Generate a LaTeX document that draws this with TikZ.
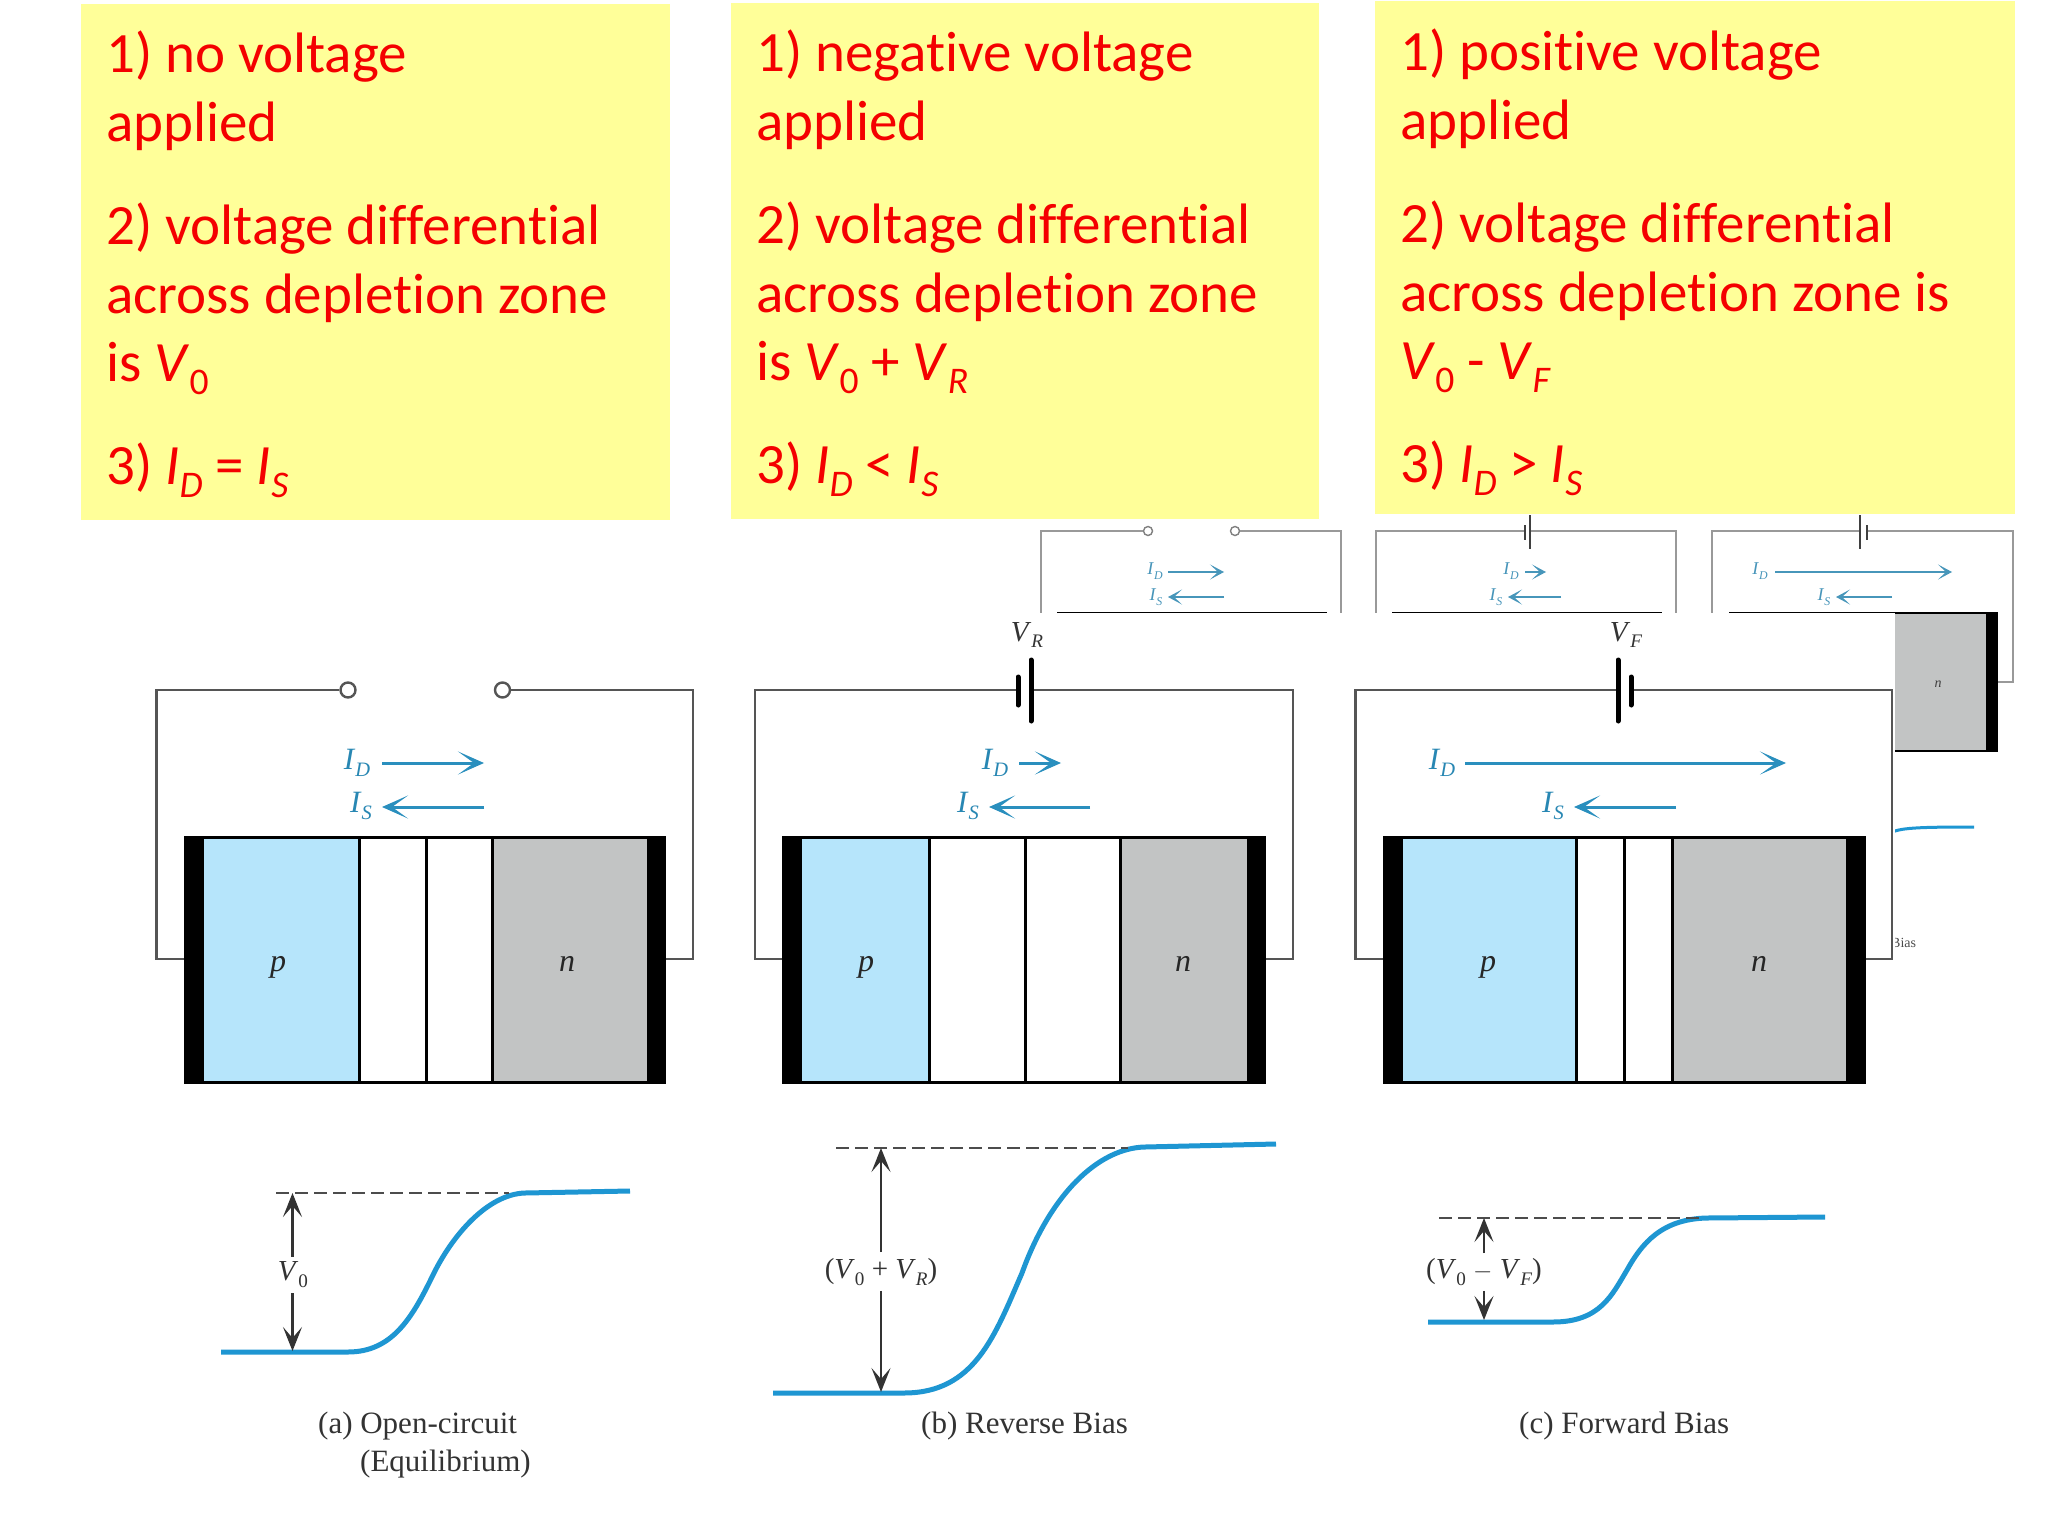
\documentclass[tikz,border=0pt]{standalone}
\usepackage{fontspec}
\setmainfont{Liberation Serif}
\newfontfamily\calfont[Ligatures=NoCommon]{Carlito}
\usetikzlibrary{arrows.meta}
\definecolor{noteyellow}{HTML}{FFFF99}
\definecolor{notered}{HTML}{F40000}
\definecolor{wirecol}{HTML}{555555}
\definecolor{cur}{HTML}{2F9FD3}
\definecolor{curb}{HTML}{1E96D2}
\definecolor{pblue}{HTML}{B6E5FB}
\definecolor{ngray}{HTML}{C2C4C4}
\newcommand\Sub[1]{\raisebox{-0.24em}{\scalebox{0.66}{#1}}}
\newcommand\It[1]{\textit{#1}}
\newcommand\V[1]{\It{V}\Sub{#1}}
\newcommand\VI[1]{\It{V}\Sub{\It{#1}}}
\newcommand\II[1]{\It{I}\Sub{\It{#1}}}
\tikzset{
  notebox/.style={fill=noteyellow,draw=none},
  noteline/.style={anchor=base west,inner sep=0pt,text=notered,font=\fontsize{57}{68}\selectfont\calfont},
  wire/.style={draw=wirecol,line width=2.2pt,line join=miter},
  smallwire/.style={draw=gray!80,line width=1.6pt},
  term/.style={circle,draw=wirecol,fill=white,line width=2.4pt,minimum size=15pt,inner sep=0pt},
  smallterm/.style={circle,draw=gray,fill=white,line width=1.4pt,minimum size=9pt,inner sep=0pt},
  curarrow/.style={draw=cur!90!black,line width=3pt,-{Stealth[length=26pt,width=23pt,inset=16pt]}},
  smallarrow/.style={draw=cur!70!gray,line width=2.2pt,-{Stealth[length=14pt,width=15pt,inset=8pt]}},
  curlabel/.style={inner sep=0pt,text=cur!85!black,font=\fontsize{31}{31}\selectfont},
  smalllabel/.style={inner sep=0pt,text=cur!70!gray,font=\fontsize{18}{18}\selectfont},
  volt/.style={inner sep=0pt,text=black!80,font=\fontsize{29}{29}\selectfont},
  captext/.style={anchor=base west,inner sep=0pt,text=black!80,font=\fontsize{31}{31}\selectfont},
  letter/.style={inner sep=0pt,font=\fontsize{32}{32}\selectfont\itshape,text=black!85},
  plate/.style={draw=black,line width=5pt,line cap=round},
  splate/.style={draw=black!75,line width=2.2pt},
  blackbar/.style={fill=black,draw=none},
  pside/.style={fill=pblue,draw=none},
  nside/.style={fill=ngray,draw=none},
  blackedge/.style={draw=black,line width=3pt},
  band/.style={draw=curb,line width=5pt},
  dashline/.style={draw=black!70,line width=2.2pt,dash pattern=on 13pt off 6pt},
  dimarrow/.style={draw=black!80,line width=2.4pt,-{Stealth[length=24pt,width=19pt,inset=11pt]}}
}
\begin{document}
\begin{tikzpicture}[x=1pt,y=-1pt]
\useasboundingbox (0,0) rectangle (2048,1536);
\fill[white] (0,0) rectangle (2048,1536);
% ---- small background panels
\coordinate (sa1) at (1041,682); \coordinate (sa2) at (1041,531); \coordinate (sa3) at (1341,531); \coordinate (sa4) at (1341,682);
\node[smallterm] (sat1) at (1148,531) {}; \node[smallterm] (sat2) at (1235,531) {};
\draw[smallwire] (sa1) -- (sa2) -- (sat1); \draw[smallwire] (sat2) -- (sa3) -- (sa4);
\coordinate (saa) at (1168,572); \coordinate (sab) at (1224,572); \coordinate (sac) at (1224,597); \coordinate (sad) at (1168,597);
\draw[smallarrow] (saa) -- (sab); \draw[smallarrow] (sac) -- (sad);
\node[smalllabel] (sal1) at (1155,571) {\II{D}}; \node[smalllabel] (sal2) at (1156,597) {\II{S}};
\coordinate (sal) at (1057,613); \coordinate (sar) at (1327,613); \draw[blackedge,line width=2pt] (sal) -- (sar);
%
\coordinate (sb1) at (1376,682); \coordinate (sb2) at (1376,531); \coordinate (sb3) at (1676,531); \coordinate (sb4) at (1676,682);
\draw[smallwire] (sb1) -- (sb2) -- (sb3) -- (sb4);
\fill[white] (1526,525) rectangle (1530,537);
\coordinate (sbp1) at (1530,515); \coordinate (sbp2) at (1530,549); \coordinate (sbq1) at (1525,525); \coordinate (sbq2) at (1525,540);
\draw[splate] (sbp1) -- (sbp2); \draw[splate] (sbq1) -- (sbq2);
\coordinate (sba) at (1525,572); \coordinate (sbb) at (1546,572); \coordinate (sbc) at (1561,597); \coordinate (sbd) at (1508,597);
\draw[smallarrow] (sba) -- (sbb); \draw[smallarrow] (sbc) -- (sbd);
\node[smalllabel] (sbl1) at (1511,571) {\II{D}}; \node[smalllabel] (sbl2) at (1496,597) {\II{S}};
\coordinate (sbl) at (1392,613); \coordinate (sbr) at (1662,613); \draw[blackedge,line width=2pt] (sbl) -- (sbr);
%
\coordinate (sc1) at (1712,682); \coordinate (sc2) at (1712,531); \coordinate (sc3) at (2013,531); \coordinate (sc4) at (2013,682);
\draw[smallwire] (sc1) -- (sc2) -- (sc3) -- (sc4) -- (1998,682);
\fill[white] (1860,525) rectangle (1866,537);
\coordinate (scp1) at (1860,515); \coordinate (scp2) at (1860,549); \coordinate (scq1) at (1867,525); \coordinate (scq2) at (1867,540);
\draw[splate] (scp1) -- (scp2); \draw[splate] (scq1) -- (scq2);
\coordinate (sca) at (1775,572); \coordinate (scb) at (1952,572); \coordinate (scc) at (1892,597); \coordinate (scd) at (1836,597);
\draw[smallarrow] (sca) -- (scb); \draw[smallarrow] (scc) -- (scd);
\node[smalllabel] (scl1) at (1760,571) {\II{D}}; \node[smalllabel] (scl2) at (1824,597) {\II{S}};
\fill[ngray] (1895,613) rectangle (1986,751);
\fill[black] (1986,613) rectangle (1998,751);
\draw[blackedge,line width=2pt] (1729,613) -- (1998,613);
\draw[blackedge,line width=2pt] (1895,751) -- (1998,751);
\node[inner sep=0pt,font=\fontsize{14}{14}\selectfont\itshape,text=black!75] (scn) at (1938,684) {n};
\node[anchor=west,inner sep=0pt,font=\fontsize{14}{14}\selectfont,text=black!70] (scbias) at (1891,943) {Bias};
\draw[draw=curb,line width=3pt] (1890,833) .. controls (1900,828) and (1915,827) .. (1974,827);
% ---- white cover of the main picture
\fill[white] (0,613) rectangle (1895,1536);
% ---- yellow notes
\fill[notebox] (81,4) rectangle (670,520);
\fill[notebox] (731,3) rectangle (1319,519);
\fill[notebox] (1375,1) rectangle (2015,514);
% note 1
\node[noteline] (a1) at (106,73) {1) no voltage};
\node[noteline] (a2) at (106,142) {applied};
\node[noteline] (a3) at (106,244) {2) voltage differential};
\node[noteline] (a4) at (106,313) {across depletion zone};
\node[noteline] (a5) at (106,381) {is \V{0}};
\node[noteline] (a6) at (106,484) {3) \II{D} = \II{S}};
% note 2
\node[noteline] (b1) at (756,72) {1) negative voltage};
\node[noteline] (b2) at (756,141) {applied};
\node[noteline] (b3) at (756,243) {2) voltage differential};
\node[noteline] (b4) at (756,312) {across depletion zone};
\node[noteline] (b5) at (756,380) {is \V{0} + \VI{R}};
\node[noteline] (b6) at (756,483) {3) \II{D} < \II{S}};
% note 3
\node[noteline] (c1) at (1400,71) {1) positive voltage};
\node[noteline] (c2) at (1400,140) {applied};
\node[noteline] (c3) at (1400,242) {2) voltage differential};
\node[noteline] (c4) at (1400,311) {across depletion zone is};
\node[noteline] (c5) at (1400,379) {\V{0} - \VI{F}};
\node[noteline] (c6) at (1400,482) {3) \II{D} > \II{S}};
% ---- panel a
\fill[pside] (203,837) rectangle (359,1082);
\fill[nside] (492,837) rectangle (647,1082);
\fill[blackbar] (184,836) rectangle (203.5,1083);
\fill[blackbar] (646.5,836) rectangle (666,1083);
\draw[blackedge] (184,837) -- (666,837); \draw[blackedge] (184,1082) -- (666,1082);
\draw[blackedge] (359,837) -- (359,1082); \draw[blackedge] (426,837) -- (426,1082); \draw[blackedge] (492.5,837) -- (492.5,1082);
\node[letter] (pa) at (278,967) {p};
\node[letter] (na) at (567,964) {n};
\node[term] (ta1) at (348,690) {}; \node[term] (ta2) at (502.5,690) {};
\coordinate (wa1) at (184,959); \coordinate (wa2) at (156.5,959); \coordinate (wa3) at (156.5,690);
\coordinate (wa4) at (666,959); \coordinate (wa5) at (693,959); \coordinate (wa6) at (693,690);
\draw[wire] (wa1) -- (wa2) -- (wa3) -- (ta1);
\draw[wire] (ta2) -- (wa6) -- (wa5) -- (wa4);
\coordinate (aa1) at (382,763); \coordinate (aa2) at (484,763); \coordinate (aa3) at (484,807); \coordinate (aa4) at (382,807);
\draw[curarrow] (aa1) -- (aa2); \draw[curarrow] (aa3) -- (aa4);
\node[curlabel] (ida) at (357,763) {\II{D}}; \node[curlabel] (isa) at (361,806) {\II{S}};
\coordinate (ca0) at (221,1352); \coordinate (ca1) at (348,1352); \coordinate (ca2) at (432,1277); \coordinate (ca3) at (525,1193); \coordinate (ca4) at (630,1191);
\draw[band] (ca0) -- (ca1) .. controls (392,1352) and (412,1318) .. (ca2) .. controls (452,1235) and (488,1194) .. (ca3) -- (ca4);
\coordinate (da1) at (276,1193); \coordinate (da2) at (509,1193); \draw[dashline] (da1) -- (da2);
\node[volt] (va) at (293,1275) {\V{0}};
\coordinate (dta) at (292.5,1193); \coordinate (dba) at (292.5,1351);
\draw[dimarrow] (va.north -| dta) ++(0,-5) -- (dta); \draw[dimarrow] (va.south -| dba) ++(0,5) -- (dba);
\node[captext] (capa) at (318,1433) {(a) Open-circuit};
\node[captext] (capa2) at (360,1471) {(Equilibrium)};
% ---- panel b
\fill[pside] (802,837) rectangle (929,1082);
\fill[nside] (1120,837) rectangle (1247,1082);
\fill[blackbar] (782,836) rectangle (802,1083);
\fill[blackbar] (1247,836) rectangle (1266,1083);
\draw[blackedge] (782,837) -- (1266,837); \draw[blackedge] (782,1082) -- (1266,1082);
\draw[blackedge] (929,837) -- (929,1082); \draw[blackedge] (1025,837) -- (1025,1082); \draw[blackedge] (1120,837) -- (1120,1082);
\node[letter] (pb) at (866,967) {p};
\node[letter] (nb) at (1183,964) {n};
\coordinate (bp1) at (1031,660); \coordinate (bp2) at (1031,721); \coordinate (bq1) at (1018,677); \coordinate (bq2) at (1018,705);
\coordinate (wb1) at (782,959); \coordinate (wb2) at (755,959); \coordinate (wb3) at (755,690); \coordinate (wb3a) at (1018,690);
\coordinate (wb4) at (1266,959); \coordinate (wb5) at (1293,959); \coordinate (wb6) at (1293,690); \coordinate (wb6a) at (1031,690);
\draw[wire] (wb1) -- (wb2) -- (wb3) -- (wb3a);
\draw[wire] (wb6a) -- (wb6) -- (wb5) -- (wb4);
\draw[plate] (bp1) -- (bp2); \draw[plate] (bq1) -- (bq2);
\node[volt] (vrl) at (1027,635) {\VI{R}};
\coordinate (ab1) at (1019,763); \coordinate (ab2) at (1061,763); \coordinate (ab3) at (1090,807); \coordinate (ab4) at (989,807);
\draw[curarrow] (ab1) -- (ab2); \draw[curarrow] (ab3) -- (ab4);
\node[curlabel] (idb) at (995,763) {\II{D}}; \node[curlabel] (isb) at (968,806) {\II{S}};
\coordinate (cb0) at (773,1393); \coordinate (cb1) at (904,1393); \coordinate (cb2) at (1022,1273); \coordinate (cb3) at (1145,1147); \coordinate (cb4) at (1276,1144);
\draw[band] (cb0) -- (cb1) .. controls (975,1393) and (995,1335) .. (cb2) .. controls (1050,1195) and (1098,1148) .. (cb3) -- (cb4);
\coordinate (db1) at (836,1148); \coordinate (db2) at (1128,1148); \draw[dashline] (db1) -- (db2);
\node[volt] (vb) at (881,1272) {(\V{0} + \VI{R})};
\coordinate (dtb) at (881,1148); \coordinate (dbb) at (881,1392);
\draw[dimarrow] (vb.north -| dtb) ++(0,-6) -- (dtb); \draw[dimarrow] (vb.south -| dbb) ++(0,5) -- (dbb);
\node[captext] (capb) at (921,1433) {(b) Reverse Bias};
% ---- panel c
\fill[pside] (1403,837) rectangle (1576,1082);
\fill[nside] (1672,837) rectangle (1846,1082);
\fill[blackbar] (1383,836) rectangle (1403,1083);
\fill[blackbar] (1846,836) rectangle (1866,1083);
\draw[blackedge] (1383,837) -- (1866,837); \draw[blackedge] (1383,1082) -- (1866,1082);
\draw[blackedge] (1576,837) -- (1576,1082); \draw[blackedge] (1624,837) -- (1624,1082); \draw[blackedge] (1672,837) -- (1672,1082);
\node[letter] (pc) at (1488,967) {p};
\node[letter] (nc) at (1759,964) {n};
\coordinate (cp1) at (1618,660); \coordinate (cp2) at (1618,721); \coordinate (cq1) at (1631,677); \coordinate (cq2) at (1631,705);
\coordinate (wc1) at (1383,959); \coordinate (wc2) at (1355.5,959); \coordinate (wc3) at (1355.5,690); \coordinate (wc3a) at (1618,690);
\coordinate (wc4) at (1866,959); \coordinate (wc5) at (1892,959); \coordinate (wc6) at (1892,690); \coordinate (wc6a) at (1631,690);
\draw[wire] (wc1) -- (wc2) -- (wc3) -- (wc3a);
\draw[wire] (wc6a) -- (wc6) -- (wc5) -- (wc4);
\draw[plate] (cp1) -- (cp2); \draw[plate] (cq1) -- (cq2);
\node[volt] (vfl) at (1626,635) {\VI{F}};
\coordinate (ac1) at (1465,763); \coordinate (ac2) at (1786,763); \coordinate (ac3) at (1676,807); \coordinate (ac4) at (1574,807);
\draw[curarrow] (ac1) -- (ac2); \draw[curarrow] (ac3) -- (ac4);
\node[curlabel] (idc) at (1442,763) {\II{D}}; \node[curlabel] (isc) at (1553,806) {\II{S}};
\coordinate (cc0) at (1428,1322); \coordinate (cc1) at (1553,1322); \coordinate (cc2) at (1627,1270); \coordinate (cc3) at (1707,1218); \coordinate (cc4) at (1825,1217);
\draw[band] (cc0) -- (cc1) .. controls (1600,1322) and (1612,1295) .. (cc2) .. controls (1642,1243) and (1662,1219) .. (cc3) -- (cc4);
\coordinate (dc1) at (1439,1218); \coordinate (dc2) at (1700,1218); \draw[dashline] (dc1) -- (dc2);
\node[volt] (vc) at (1484,1272) {(\V{0} $-$ \VI{F})};
\coordinate (dtc) at (1484,1218); \coordinate (dbc) at (1484,1320);
\draw[dimarrow] (vc.north -| dtc) ++(0,-5) -- (dtc); \draw[dimarrow] (vc.south -| dbc) ++(0,5) -- (dbc);
\node[captext] (capc) at (1519,1433) {(c) Forward Bias};
\end{tikzpicture}
\end{document}
